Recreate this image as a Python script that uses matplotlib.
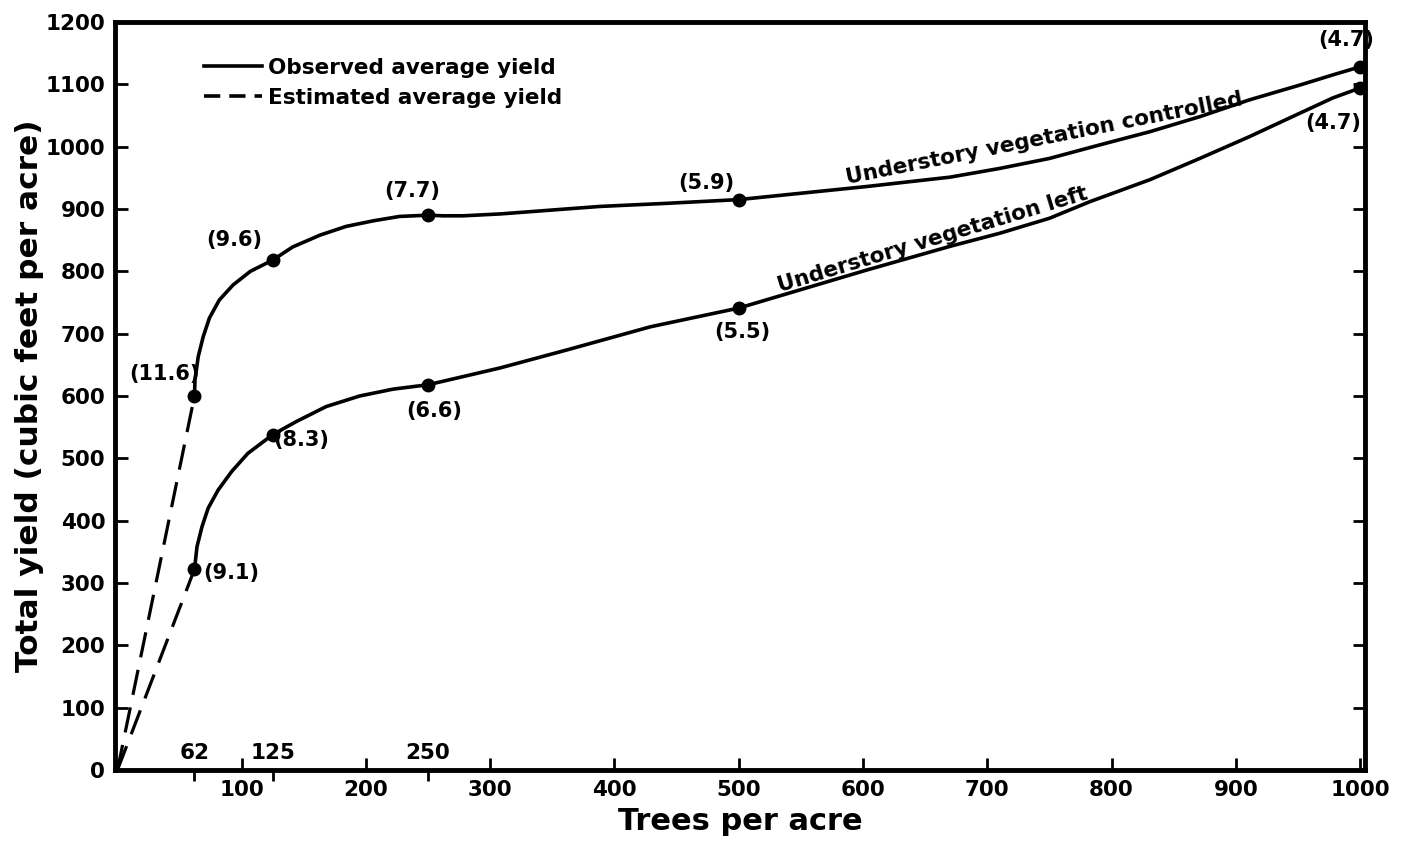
import matplotlib
matplotlib.use("Agg")
import matplotlib.pyplot as plt
from matplotlib.lines import Line2D

plt.rcParams["font.family"] = ["DejaVu Sans"]
plt.rcParams["font.weight"] = "bold"

# observed stand densities and yields (cubic feet per acre)
trees = [62, 125, 250, 500, 1000]
yield_controlled = [600, 818, 890, 915, 1128]
yield_left = [322, 538, 618, 741, 1094]
# mean annual increment labels at each point
mai_controlled = ["(11.6)", "(9.6)", "(7.7)", "(5.9)", "(4.7)"]
mai_left = ["(9.1)", "(8.3)", "(6.6)", "(5.5)", "(4.7)"]

# hand-fitted curves through the observations
curve_ctrl_x = [62, 62.4, 65, 69, 74, 82, 93, 107, 125, 141, 163, 184, 206,
                227, 250, 262, 278, 308, 388, 442, 500, 549, 603, 670, 710,
                750, 791, 831, 871, 911, 952, 978, 1000]
curve_ctrl_y = [600, 626, 663, 695, 725, 754, 778, 800, 818, 839, 858, 872,
                881, 888, 890, 889, 889, 892, 904, 909, 915, 925, 936, 951,
                965, 981, 1003, 1024, 1048, 1075, 1099, 1115, 1128]
curve_left_x = [62, 64, 68, 73, 81, 92, 105, 125, 144, 168, 195, 222, 250,
                278, 308, 362, 429, 500, 549, 603, 670, 710, 750, 783, 831,
                871, 911, 952, 978, 1000]
curve_left_y = [322, 358, 390, 420, 449, 479, 508, 538, 559, 583, 600, 611,
                618, 631, 645, 674, 711, 741, 770, 802, 840, 861, 885, 912,
                947, 981, 1016, 1054, 1078, 1094]

# estimated yields below the lowest observed density
est_x = [0, 62]
est_ctrl_y = [0, 600]
est_left_y = [0, 322]

fig = plt.figure(figsize=(14.02, 8.44), dpi=100)
ax = fig.add_axes([0.082, 0.0877, 0.8916, 0.8863])

lw = 2.6
ax.plot(curve_ctrl_x, curve_ctrl_y, color="black", lw=lw, solid_joinstyle="round")
ax.plot(curve_left_x, curve_left_y, color="black", lw=lw, solid_joinstyle="round")
ax.plot(est_x, est_ctrl_y, color="black", lw=2.3, dashes=(8, 4))
ax.plot(est_x, est_left_y, color="black", lw=2.3, dashes=(8, 4))
ax.plot(trees, yield_controlled, "o", color="black", ms=9, clip_on=False, zorder=3)
ax.plot(trees, yield_left, "o", color="black", ms=9, clip_on=False, zorder=3)

# label offsets in pixels from each point
ctrl_off = [(-30, 22), (-39, 20), (-16, 24), (-32, 17), (-14, 27)]
left_off = [(37, -4), (28, -5), (6, -26), (4, -24), (-27, -35)]
lab = dict(fontsize=15, fontweight="bold", ha="center", va="center",
           textcoords="offset pixels")
for x, y, t, off in zip(trees, yield_controlled, mai_controlled, ctrl_off):
    ax.annotate(t, (x, y), xytext=off, **lab)
for x, y, t, off in zip(trees, yield_left, mai_left, left_off):
    ax.annotate(t, (x, y), xytext=off, **lab)

ax.text(746, 1013, "Understory vegetation controlled", fontsize=15.5,
        fontweight="bold", rotation=11.3, ha="center", va="center",
        rotation_mode="anchor")
ax.text(656, 850, "Understory vegetation left", fontsize=15.5,
        fontweight="bold", rotation=16.8, ha="center", va="center",
        rotation_mode="anchor")

ax.set_xlim(-2, 1004)
ax.set_ylim(0, 1200)
ax.set_xticks(range(100, 1001, 100))
ax.set_yticks(range(0, 1201, 100))
ax.tick_params(which="major", direction="in", length=9, width=2,
               labelsize=15.5, pad=7, right=True)

# the sampled densities get outward ticks with labels inside the frame
ax.set_xticks(trees[:3], minor=True)
ax.tick_params(which="minor", direction="out", length=8, width=2, labelbottom=False)
for x in trees[:3]:
    ax.text(x, 12, str(x), fontsize=15.5, fontweight="bold", ha="center", va="bottom")

for s in ax.spines.values():
    s.set_linewidth(3.5)

ax.set_xlabel("Trees per acre", fontsize=22, fontweight="heavy", labelpad=5)
ax.set_ylabel("Total yield (cubic feet per acre)", fontsize=22.5,
              fontweight="heavy", labelpad=1)

handles = [Line2D([], [], color="black", lw=2.6),
           Line2D([], [], color="black", lw=2.6, dashes=(4.5, 2.5))]
ax.legend(handles, ["Observed average yield", "Estimated average yield"],
          loc="upper left", bbox_to_anchor=(0.071, 0.952), frameon=False,
          borderpad=0, borderaxespad=0, handlelength=2.7, handletextpad=0.3,
          labelspacing=0.45, prop={"weight": "bold", "size": 15.5})

fig.savefig("out.png", dpi=100)
